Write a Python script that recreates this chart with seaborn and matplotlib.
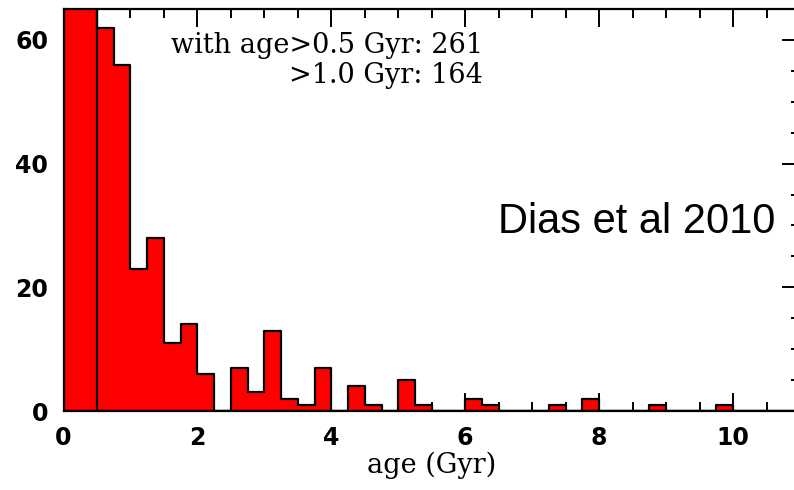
import numpy as np
import pandas as pd
import matplotlib
matplotlib.use("Agg")
import matplotlib.pyplot as plt
from matplotlib.ticker import MultipleLocator
import seaborn as sns

# ---- data ----
bin_width = 0.25
bin_left = [0.0, 0.25, 0.5, 0.75, 1.0, 1.25, 1.5, 1.75, 2.0, 2.25, 2.5, 2.75,
            3.0, 3.25, 3.5, 3.75, 4.0, 4.25, 4.5, 4.75, 5.0, 5.25, 5.5, 5.75,
            6.0, 6.25, 6.5, 6.75, 7.0, 7.25, 7.5, 7.75, 8.0, 8.25, 8.5, 8.75,
            9.0, 9.25, 9.5, 9.75, 10.0, 10.25, 10.5, 10.75]
counts = [75, 75, 62, 56, 23, 28, 11, 14, 6, 0, 7, 3,
          13, 2, 1, 7, 0, 4, 1, 0, 5, 1, 0, 0,
          2, 1, 0, 0, 0, 1, 0, 2, 0, 0, 0, 1,
          0, 0, 0, 1, 0, 0, 0, 0]
cut_age = 0.5
note_line1 = "with age>0.5 Gyr: 261"
note_line2 = ">1.0 Gyr: 164"
xlabel = "age (Gyr)"
credit = "Dias et al 2010"

df = pd.DataFrame({"age": np.array(bin_left) + bin_width / 2, "n": counts})
edges = list(bin_left) + [bin_left[-1] + bin_width]

sns.set_style("ticks")
plt.rcParams["font.family"] = ["DejaVu Sans"]
plt.rcParams["text.color"] = "black"
plt.rcParams["axes.labelcolor"] = "black"
plt.rcParams["xtick.color"] = "black"
plt.rcParams["ytick.color"] = "black"
plt.rcParams["xtick.labelcolor"] = "black"
plt.rcParams["ytick.labelcolor"] = "black"

W, H = 794, 490
fig = plt.figure(figsize=(W / 100, H / 100), dpi=100)
ax_left, ax_right = 63.5, 800.0
ax_top, ax_bottom = 9.0, 411.0
ax = fig.add_axes([ax_left / W, (H - ax_bottom) / H,
                   (ax_right - ax_left) / W, (ax_bottom - ax_top) / H])

sns.histplot(data=df, x="age", weights="n", bins=edges, element="step",
             fill=True, color="#ff0000", edgecolor="black", alpha=1,
             linewidth=1.6, ax=ax)
ax.axvline(cut_age, color="black", lw=1.6, zorder=5)

ax.set_xlim(0, 11)
ax.set_ylim(0, 65)
ax.xaxis.set_major_locator(MultipleLocator(2))
ax.xaxis.set_minor_locator(MultipleLocator(0.5))
ax.yaxis.set_major_locator(MultipleLocator(20))
ax.yaxis.set_minor_locator(MultipleLocator(5))
ax.tick_params(which="both", direction="in", top=True, right=True,
               width=1.4, color="black", labelcolor="black")
ax.tick_params(which="major", length=13, labelsize=17, pad=11)
ax.tick_params(which="minor", length=6.5)
for lab in ax.get_xticklabels() + ax.get_yticklabels():
    lab.set_fontweight("bold")
for s in ax.spines.values():
    s.set_linewidth(1.6)
    s.set_color("black")

ax.set_ylabel("")
ax.set_xlabel(xlabel, family="DejaVu Serif", fontsize=19.5,
              color="black", labelpad=1)

ax.text(6.26, 57.9, note_line1, ha="right", va="baseline", color="black",
        family="DejaVu Serif", fontsize=19.5)
ax.text(6.26, 53.0, note_line2, ha="right", va="baseline", color="black",
        family="DejaVu Serif", fontsize=19.5)

fig.text(775 / W, (H - 233) / H, credit, ha="right", va="baseline",
         family="Liberation Sans", fontsize=30, color="black")

fig.savefig("out.png", dpi=100)
